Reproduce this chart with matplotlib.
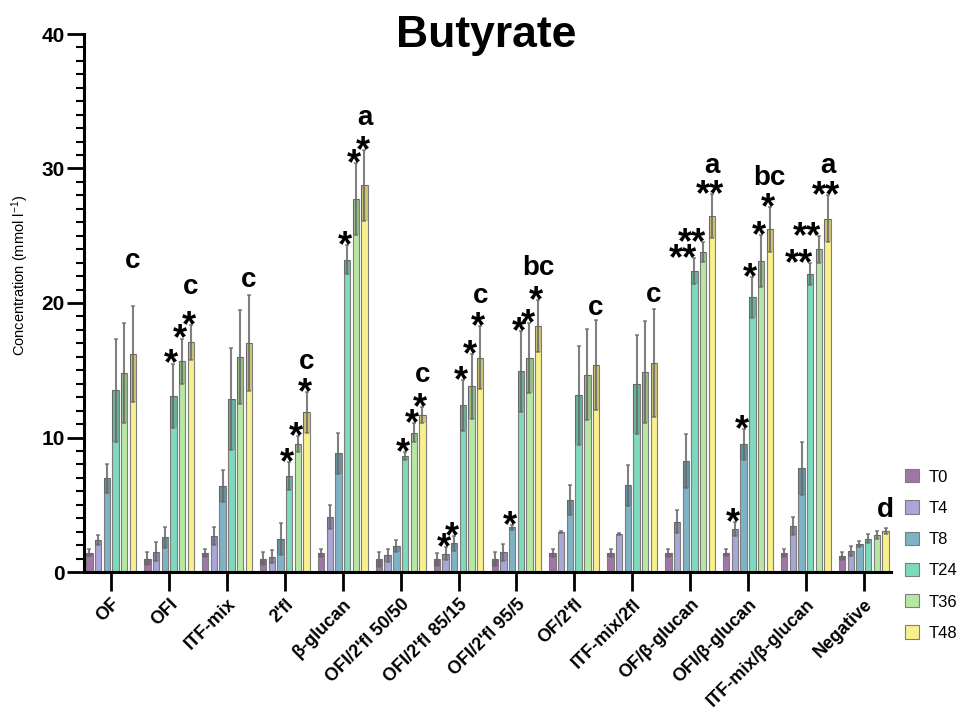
import numpy as np
import matplotlib
matplotlib.use("Agg")
import matplotlib.pyplot as plt
from matplotlib.patches import Patch
from matplotlib.ticker import MultipleLocator

plt.rcParams['font.family'] = ['Liberation Sans', 'DejaVu Sans']
plt.rcParams['mathtext.default'] = 'regular'

# ---- data -------------------------------------------------------------
groups = ['OF', 'OFI', 'ITF-mix', "2'fl", 'β-glucan', "OFI/2'fl 50/50",
          "OFI/2'fl 85/15", "OFI/2'fl 95/5", "OF/2'fl", 'ITF-mix/2fl',
          'OF/β-glucan', 'OFI/β-glucan', 'ITF-mix/β-glucan', 'Negative']
timepoints = ['T0', 'T4', 'T8', 'T24', 'T36', 'T48']

t0 = [1.43, 1.00, 1.41, 1.00, 1.39, 0.94, 0.94, 0.97, 1.41, 1.41, 1.41, 1.43, 1.43, 1.19]
t4 = [2.38, 1.50, 2.68, 1.14, 4.07, 1.24, 1.36, 1.46, 2.97, 2.83, 3.74, 3.20, 3.42, 1.54]
t8 = [6.96, 2.58, 6.40, 2.43, 8.82, 1.93, 2.13, 3.32, 5.35, 6.44, 8.25, 9.49, 7.71, 2.08]
t24 = [13.50, 13.10, 12.84, 7.14, 23.22, 8.65, 12.40, 14.92, 13.13, 13.95, 22.36, 20.42, 22.16, 2.48]
t36 = [14.80, 15.66, 15.96, 9.52, 27.73, 10.36, 13.80, 15.91, 14.67, 14.87, 23.77, 23.10, 24.01, 2.73]
t48 = [16.20, 17.08, 17.03, 11.87, 28.75, 11.67, 15.93, 18.29, 15.36, 15.56, 26.47, 25.48, 26.27, 3.05]

sd0 = [0.27, 0.45, 0.28, 0.45, 0.30, 0.55, 0.50, 0.50, 0.28, 0.28, 0.28, 0.26, 0.28, 0.30]
sd4 = [0.35, 0.70, 0.70, 0.50, 0.90, 0.50, 0.47, 0.65, 0.10, 0.10, 0.87, 0.50, 0.69, 0.37]
sd8 = [1.05, 0.80, 1.16, 1.20, 1.50, 0.45, 0.55, 0.20, 1.14, 1.50, 2.00, 1.16, 1.96, 0.20]
sd24 = [3.80, 2.40, 3.80, 1.04, 1.10, 0.30, 1.90, 3.00, 3.70, 3.70, 0.96, 1.50, 0.84, 0.35]
sd36 = [3.70, 1.70, 3.50, 0.60, 2.70, 0.70, 2.40, 2.60, 3.40, 3.80, 0.74, 1.93, 1.00, 0.30]
sd48 = [3.55, 1.30, 3.60, 1.50, 2.65, 0.57, 2.35, 1.90, 3.35, 4.00, 1.66, 1.66, 1.73, 0.24]

# significance vs T0 for each group (T0..T48)
stars = [
    ['', '', '', '', '', ''],
    ['', '', '', '*', '*', '*'],
    ['', '', '', '', '', ''],
    ['', '', '', '*', '*', '*'],
    ['', '', '', '*', '*', '*'],
    ['', '', '', '*', '*', '*'],
    ['', '*', '*', '*', '*', '*'],
    ['', '', '*', '*', '*', '*'],
    ['', '', '', '', '', ''],
    ['', '', '', '', '', ''],
    ['', '', '', '**', '**', '**'],
    ['', '*', '*', '*', '*', '*'],
    ['', '', '', '**', '**', '**'],
    ['', '', '', '', '', ''],
]
letters = ['c', 'c', 'c', 'c', 'a', 'c', 'c', 'bc', 'c', 'c', 'a', 'bc', 'a', 'd']
letter_y = [22.6, 20.7, 21.2, 15.1, 33.2, 14.15, 20.0, 22.1, 19.1, 20.1, 29.7, 28.8, 29.7, 4.1]

means = [t0, t4, t8, t24, t36, t48]
sds = [sd0, sd4, sd8, sd24, sd36, sd48]
colors = ['#9f76a6', '#a9a6d8', '#7eb2c4', '#7ed9bd', '#b7e7a3', '#f8f08c']

# ---- figure -----------------------------------------------------------
W, H = 973, 710
fig = plt.figure(figsize=(W / 100, H / 100), dpi=100)
ax = fig.add_axes([84 / W, 1 - 572 / H, (891 - 84) / W, (572 - 34) / H])

x = np.arange(len(groups))
step = 0.15
width = 0.11

for i, (m, s, c) in enumerate(zip(means, sds, colors)):
    xi = x + (i - 2.5) * step
    m = np.array(m)
    s = np.array(s)
    ax.bar(xi, m, width=width, color=c, edgecolor='#7d7d7d', linewidth=0.8, zorder=2)
    # shaded lower half of the error range inside the bar
    ax.bar(xi, s, bottom=m - s, width=width, color='black', alpha=0.17,
           linewidth=0, zorder=3)
    ax.errorbar(xi, m, yerr=s, fmt='none', ecolor='#6a6a6a', elinewidth=1.5,
                capsize=1.6, capthick=1.1, alpha=0.85, zorder=4)

# significance stars
for g in range(len(groups)):
    for i in range(6):
        mark = stars[g][i]
        if not mark:
            continue
        top = means[i][g] + sds[i][g]
        xs = x[g] + (i - 2.5) * step
        if mark == '**' and i in (3, 4):
            xs -= 0.2
        else:
            xs -= 0.035
        ax.annotate(mark, (xs, top), xytext=(0, -8), textcoords='offset points',
                    ha='center', va='baseline', fontsize=26, fontweight='bold',
                    color='black', zorder=5)

# group letters
for g in range(len(groups)):
    ax.text(x[g] + 2.5 * step, letter_y[g], letters[g], ha='center', va='baseline',
            fontsize=20, fontweight='bold', zorder=5)

ax.set_xlim(-0.47, 13.47)
ax.set_ylim(0, 40)
ax.set_xticks(x)
ax.set_xticklabels(groups, rotation=45, ha='right', rotation_mode='anchor',
                   fontsize=13, fontweight='bold')
ax.yaxis.set_major_locator(MultipleLocator(10))
ax.yaxis.set_minor_locator(MultipleLocator(1))
for lab in ax.get_yticklabels():
    lab.set_fontweight('bold')
ax.tick_params(axis='y', which='major', length=12, width=2, labelsize=15, pad=2)
ax.tick_params(axis='y', which='minor', length=6, width=1.5)
ax.tick_params(axis='x', which='major', length=14, width=2, pad=3)

for side in ('top', 'right'):
    ax.spines[side].set_visible(False)
for side in ('left', 'bottom'):
    ax.spines[side].set_linewidth(2.2)
    ax.spines[side].set_zorder(6)

fig.text(0.5, 1 - 35 / H, 'Butyrate', ha='center', va='center',
         fontsize=32, fontweight='bold')
fig.text(20 / W, 1 - 275 / H, 'Concentration (mmol l$^{-1}$)', rotation=90,
         ha='center', va='center', fontsize=10.5)

handles = [Patch(facecolor=c, edgecolor='#7d7d7d', linewidth=0.8, label=t)
           for c, t in zip(colors, timepoints)]
fig.legend(handles=handles, loc='center left', bbox_to_anchor=(898 / W, 1 - 555 / H),
           frameon=False, fontsize=12, handlelength=0.85, handleheight=0.85,
           labelspacing=0.95, handletextpad=0.6, borderaxespad=0)

fig.savefig('out.png', dpi=100)
